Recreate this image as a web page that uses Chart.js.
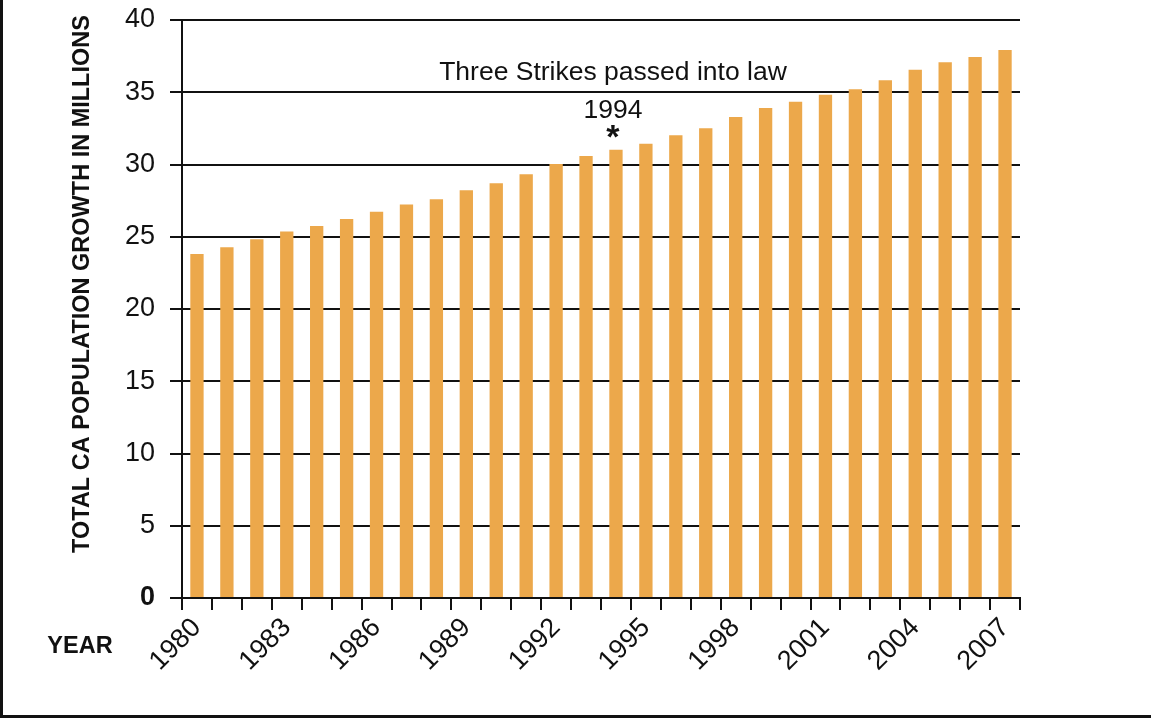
<!DOCTYPE html>
<html>
<head>
<meta charset="utf-8">
<script src="https://cdn.jsdelivr.net/npm/chart.js@4/dist/chart.umd.min.js"></script>
<style>
  html, body { margin: 0; padding: 0; background: #fff; }
  canvas { display: block; }
</style>
</head>
<body>
<canvas id="popChart" width="1151" height="719"></canvas>
<script>
// years on the x axis (one bar each)
const years = ['1980', '1981', '1982', '1983', '1984', '1985', '1986', '1987', '1988', '1989',
  '1990', '1991', '1992', '1993', '1994', '1995', '1996', '1997', '1998', '1999',
  '2000', '2001', '2002', '2003', '2004', '2005', '2006', '2007'];

// total CA population, millions
const population = [23.8, 24.27, 24.82, 25.37, 25.74, 26.23, 26.73, 27.24, 27.59, 28.21,
  28.7, 29.32, 30.03, 30.59, 31.02, 31.44, 32.02, 32.51, 33.29, 33.91,
  34.35, 34.83, 35.21, 35.83, 36.56, 37.07, 37.44, 37.93];

const yTitle = 'TOTAL CA POPULATION GROWTH IN MILLIONS';
const xTitle = 'YEAR';
const noteYear = '1994';
const noteText = 'Three Strikes passed into law';

Chart.defaults.font.family = "'Liberation Sans', Arial, Helvetica, sans-serif";
Chart.defaults.color = '#111';

// frame, axis titles and the 1994 note
const extras = {
  id: 'extras',
  beforeDraw(chart) {
    const ctx = chart.ctx;
    ctx.save();
    ctx.strokeStyle = '#111';
    ctx.lineWidth = 3;
    ctx.beginPath();
    ctx.moveTo(1.5, 0);
    ctx.lineTo(1.5, chart.height - 2.5);
    ctx.lineTo(chart.width, chart.height - 2.5);
    ctx.stroke();
    ctx.restore();
  },
  afterDraw(chart) {
    const ctx = chart.ctx;
    const area = chart.chartArea;
    const xs = chart.scales.x;
    const ys = chart.scales.y;
    ctx.save();
    ctx.fillStyle = '#111';

    // y title
    ctx.font = 'bold 23.5px ' + Chart.defaults.font.family;
    ctx.textAlign = 'center';
    ctx.textBaseline = 'middle';
    ctx.save();
    ctx.translate(83, (area.top + area.bottom) / 2 - 25);
    ctx.rotate(-Math.PI / 2);
    ctx.fillText(yTitle, 0, 0);
    ctx.restore();

    // x title
    ctx.fillText(xTitle, 80, area.bottom + 49);

    // note above the 1994 bar
    const cx = xs.getPixelForValue(years.indexOf(noteYear)) - 3;
    ctx.textBaseline = 'alphabetic';
    ctx.font = '26.5px ' + Chart.defaults.font.family;
    ctx.fillText(noteText, cx, ys.getPixelForValue(35) - 12);
    ctx.fillText(noteYear, cx, ys.getPixelForValue(35) + 26);
    ctx.font = 'bold 34px ' + Chart.defaults.font.family;
    ctx.fillText('*', cx, ys.getPixelForValue(35) + 56);
    ctx.restore();
  }
};

new Chart(document.getElementById('popChart'), {
  type: 'bar',
  data: {
    labels: years,
    datasets: [{
      data: population,
      backgroundColor: 'rgb(236, 168, 75)',
      borderWidth: 0,
      categoryPercentage: 1,
      barPercentage: 0.445,
    }],
  },
  options: {
    responsive: false,
    animation: false,
    layout: {
      padding: { left: 0, top: 20, right: 131, bottom: 0 },
    },
    plugins: {
      legend: { display: false },
      title: { display: false },
      tooltip: { enabled: false },
    },
    scales: {
      x: {
        grid: {
          offset: true,
          drawOnChartArea: false,
          color: '#111',
          lineWidth: 2,
          tickLength: 12,
        },
        border: { display: true, color: '#111', width: 2 },
        ticks: {
          autoSkip: false,
          minRotation: 45,
          maxRotation: 45,
          padding: 2,
          color: '#111',
          font: { size: 27 },
          callback: function (value, index) {
            return index % 3 === 0 ? years[index] : '';
          },
        },
        afterFit: function (scale) {
          scale.height = 121;
        },
      },
      y: {
        min: 0,
        max: 40,
        grid: {
          color: '#111',
          lineWidth: 2,
          tickLength: 12,
        },
        border: { display: true, color: '#111', width: 2 },
        ticks: {
          stepSize: 5,
          padding: 15,
          color: '#111',
          font: function (ctx) {
            return ctx.tick && ctx.tick.value === 0 ? { size: 27, weight: 'bold' } : { size: 27 };
          },
        },
        afterFit: function (scale) {
          scale.width = 182;
          // let layout.padding decide the top gap
          scale.paddingTop = 0;
          scale.paddingBottom = 0;
        },
      },
    },
  },
  plugins: [extras],
});
</script>
</body>
</html>
